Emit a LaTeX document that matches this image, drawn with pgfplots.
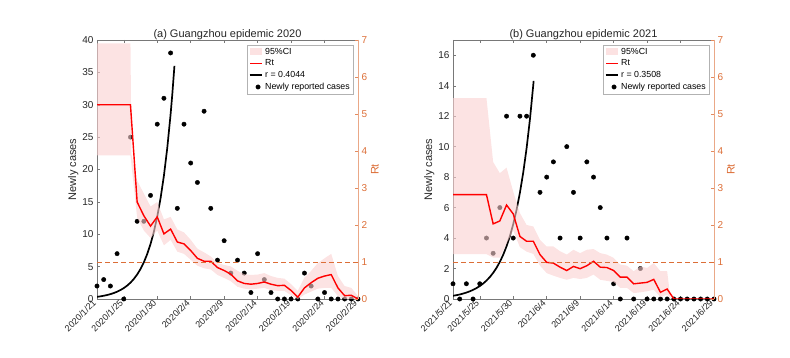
\documentclass[border=0pt]{standalone}
\usepackage{fontspec}
\setmainfont{Liberation Sans}
\usepackage{pgfplots}
\pgfplotsset{compat=1.18}

\definecolor{txt}{RGB}{38,38,38}
\definecolor{axgray}{RGB}{120,120,120}
\definecolor{rtorange}{RGB}{220,110,55}
\definecolor{rtred}{RGB}{255,0,0}
\definecolor{cipink}{RGB}{250,208,208}

\pgfplotsset{
  panel/.style={
    scale only axis, width=261pt, height=259pt,
    xmin=0, xmax=39, xtick={0,4,9,14,19,24,29,34,39},
    /pgf/number format/assume math mode=true,
    major tick length=3pt,
    tick style={axgray, line width=0.4pt},
    axis line style={axgray, line width=0.5pt},
    tick label style={font=\fontsize{10}{12}\selectfont, text=txt},
    xticklabel style={rotate=45, anchor=east, font=\fontsize{9}{10}\selectfont},
    title style={font=\fontsize{11}{13}\selectfont, text=txt, yshift=-9pt},
    label style={font=\fontsize{11}{13}\selectfont, text=txt},
  },
  leftax/.style={panel, ymin=0, ytick pos=left, xtick pos=both, ylabel={Newly cases},
    ylabel style={yshift=-3pt}},
  rightax/.style={panel, axis y line*=right, axis x line=none,
    ymin=0, ymax=7, ytick={0,...,7},
    y axis line style={rtorange!60, line width=0.5pt},
    ytick style={rtorange!80},
    yticklabel style={text=rtorange},
    ylabel={Rt}, ylabel style={text=rtorange, yshift=3pt},
    legend cell align=left,
    legend style={at={(1,1)}, anchor=north east, xshift=-5pt, yshift=-5pt,
      draw=gray!60, line width=0.4pt, font=\fontsize{8.8}{10}\selectfont,
      inner sep=1pt, row sep=0pt},
  },
  shortarea/.style={legend image code/.code={\fill[##1] (0cm,-0.11cm) rectangle (0.45cm,0.13cm);}},
  rtleg/.style={legend image code/.code={\fill[draw=none, fill=rtred, fill opacity=0.99] (0cm,-0.75pt) rectangle (0.45cm,0.75pt);}},
  fitleg/.style={legend image code/.code={\draw[black, line width=1.7pt] (0cm,0cm) -- (0.45cm,0cm);}},
  dots/.style={only marks, mark=*, mark size=2.2pt, black},
  expfit/.style={black, line width=1.7pt},
  rtline/.style={rtred, line width=1.4pt},
  ciband/.style={draw=none, fill=cipink, fill opacity=0.6, shortarea},
  oneline/.style={rtorange, line width=0.7pt, dash pattern=on 5pt off 3pt, forget plot},
}

\begin{document}
\begin{tikzpicture}
\path[use as bounding box] (0,0) rectangle (790pt,358pt);

% ---------------- (a) 2020 ----------------
\begin{axis}[leftax, at={(97pt,59pt)}, anchor=south west,
  ymax=40, ytick={0,5,...,40},
  xticklabels={2020/1/21,2020/1/25,2020/1/30,2020/2/4,2020/2/9,2020/2/14,2020/2/19,2020/2/24,2020/2/29}]
\addplot[dots] coordinates {
  (0,2) (1,3) (2,2) (3,7) (4,0) (5,25) (6,12) (7,12) (8,16) (9,27)
  (10,31) (11,38) (12,14) (13,27) (14,21) (15,18) (16,29) (17,14) (18,6) (19,9)
  (20,4) (21,6) (22,4) (23,1) (24,7) (25,3) (26,1) (27,0) (28,0) (29,0)
  (30,0) (31,4) (32,2) (33,0) (34,1) (35,0) (36,0) (37,0) (38,0) (39,0)};
\addplot[expfit] coordinates {
  (0,0.334) (0.5,0.409) (1,0.500) (1.5,0.613) (2,0.750) (2.5,0.918) (3,1.124)
  (3.5,1.376) (4,1.684) (4.5,2.061) (5,2.523) (5.5,3.088) (6,3.780) (6.5,4.628)
  (7,5.664) (7.5,6.934) (8,8.488) (8.5,10.390) (9,12.718) (9.5,15.569)
  (10,19.056) (10.5,23.330) (11,28.554) (11.25,31.59) (11.57,36.0)};
\end{axis}
\begin{axis}[rightax, at={(97pt,59pt)}, anchor=south west,
  title={(a) Guangzhou epidemic 2020}]
\addplot[ciband] coordinates {
  (0,6.91) (5,6.91) (5.15,3.9) (6,3.2) (7,2.85) (8,2.5) (9,2.62) (10,2.15)
  (11,2.22) (12,1.88) (13,1.8) (14,1.6) (15,1.36) (16,1.26) (17,1.15) (18,0.97)
  (19,0.92) (20,0.88) (21,0.76) (22,0.67) (23,0.65) (24,0.66) (25,0.7) (26,0.62)
  (27,0.57) (28,0.55) (29,0.4) (30,0.22) (31,0.58) (32,0.76) (33,0.97) (34,1.1)
  (35,1.22) (36,0.62) (37,0.35) (38,0.3) (39,0.08)
  (39,0) (38,0) (37,0) (36,0.08) (35,0.3) (34,0.3) (33,0.28) (32,0.2) (31,0.12)
  (30,0) (29,0.1) (28,0.22) (27,0.22) (26,0.24) (25,0.3) (24,0.28) (23,0.26)
  (22,0.28) (21,0.33) (20,0.48) (19,0.57) (18,0.65) (17,0.8) (16,0.83) (15,0.9)
  (14,1.06) (13,1.22) (12,1.28) (11,1.6) (10,1.45) (9,1.85) (8,1.65) (7,1.85)
  (6,2.2) (5,3.88) (0,3.88)} -- cycle;
\addlegendentry{95\%CI}
\addplot[rtline, forget plot] coordinates {
  (0,5.25) (5,5.25) (6,2.62) (7,2.25) (8,1.97) (9,2.22) (10,1.76) (11,1.89)
  (12,1.54) (13,1.49) (14,1.31) (15,1.10) (16,1.02) (17,1.02) (18,0.85) (19,0.77)
  (20,0.67) (21,0.49) (22,0.42) (23,0.40) (24,0.42) (25,0.46) (26,0.40) (27,0.36)
  (28,0.37) (29,0.23) (30,0.05) (31,0.30) (32,0.44) (33,0.56) (34,0.62) (35,0.66)
  (36,0.30) (37,0.09) (38,0.10) (39,0)};
\addplot[oneline] coordinates {(0,1) (39,1)};
\addlegendimage{rtleg}
\addlegendentry{Rt}
\addlegendimage{fitleg}
\addlegendentry{r = 0.4044}
\addlegendimage{dots}
\addlegendentry{Newly reported cases}
\end{axis}

% ---------------- (b) 2021 ----------------
\begin{axis}[leftax, at={(453pt,59pt)}, anchor=south west,
  ymax=17, ytick={0,2,...,16},
  xticklabels={2021/5/21,2021/5/25,2021/5/30,2021/6/4,2021/6/9,2021/6/14,2021/6/19,2021/6/24,2021/6/29}]
\addplot[dots] coordinates {
  (0,1) (1,0) (2,1) (3,0) (4,1) (5,4) (6,3) (7,6) (8,12) (9,4)
  (10,12) (11,12) (12,16) (13,7) (14,8) (15,9) (16,4) (17,10) (18,7) (19,4)
  (20,9) (21,8) (22,6) (23,4) (24,1) (25,0) (26,4) (27,0) (28,2) (29,0)
  (30,0) (31,0) (32,0) (33,0) (34,0) (35,0) (36,0) (37,0) (38,0) (39,0)};
\addplot[expfit] coordinates {
  (0,0.209) (0.5,0.249) (1,0.297) (1.5,0.354) (2,0.422) (2.5,0.502) (3,0.599)
  (3.5,0.713) (4,0.850) (4.5,1.013) (5,1.208) (5.5,1.439) (6,1.715) (6.5,2.044)
  (7,2.436) (7.5,2.903) (8,3.459) (8.5,4.122) (9,4.913) (9.5,5.855) (10,6.977)
  (10.5,8.314) (11,9.908) (11.5,11.808) (12,14.07) (12.05,14.32)};
\end{axis}
\begin{axis}[rightax, at={(453pt,59pt)}, anchor=south west,
  title={(b) Guangzhou epidemic 2021}]
\addplot[ciband] coordinates {
  (0,5.43) (5,5.43) (6,3.7) (7,3.4) (8,3.55) (9,2.9) (10,2.32) (11,2.0) (12,1.96)
  (13,1.6) (14,1.42) (15,1.42) (16,1.29) (17,1.2) (18,1.33) (19,1.24) (20,1.33)
  (21,1.35) (22,1.24) (23,1.2) (24,1.11) (25,0.93) (26,0.9) (27,0.75) (28,0.88)
  (29,0.84) (30,0.97) (31,0.75) (32,0.75) (32.5,0)
  (32,0.12) (31,0.05) (30,0.25) (29,0.21) (28,0.18) (27,0.16) (26,0.3) (25,0.3)
  (24,0.46) (23,0.49) (22,0.52) (21,0.66) (20,0.57) (19,0.54) (18,0.57) (17,0.52)
  (16,0.57) (15,0.63) (14,0.7) (13,0.9) (12,1.22) (11,1.28) (10,1.4) (9,1.85)
  (8,1.5) (7,1.12) (6,1.12) (5,1.21) (0,1.21)} -- cycle;
\addlegendentry{95\%CI}
\addplot[rtline, forget plot] coordinates {
  (0,2.82) (5,2.82) (6,2.03) (7,2.11) (8,2.54) (9,2.30) (10,1.69) (11,1.56)
  (12,1.56) (13,1.20) (14,0.99) (15,0.97) (16,0.86) (17,0.77) (18,0.88) (19,0.82)
  (20,0.90) (21,1.02) (22,0.86) (23,0.85) (24,0.77) (25,0.59) (26,0.59) (27,0.41)
  (28,0.43) (29,0.45) (30,0.53) (31,0.18) (32,0.27) (33,0) (34,0) (35,0) (36,0)
  (37,0) (38,0) (39,0)};
\addplot[oneline] coordinates {(0,1) (39,1)};
\addlegendimage{rtleg}
\addlegendentry{Rt}
\addlegendimage{fitleg}
\addlegendentry{r = 0.3508}
\addlegendimage{dots}
\addlegendentry{Newly reported cases}
\end{axis}
\end{tikzpicture}
\end{document}
